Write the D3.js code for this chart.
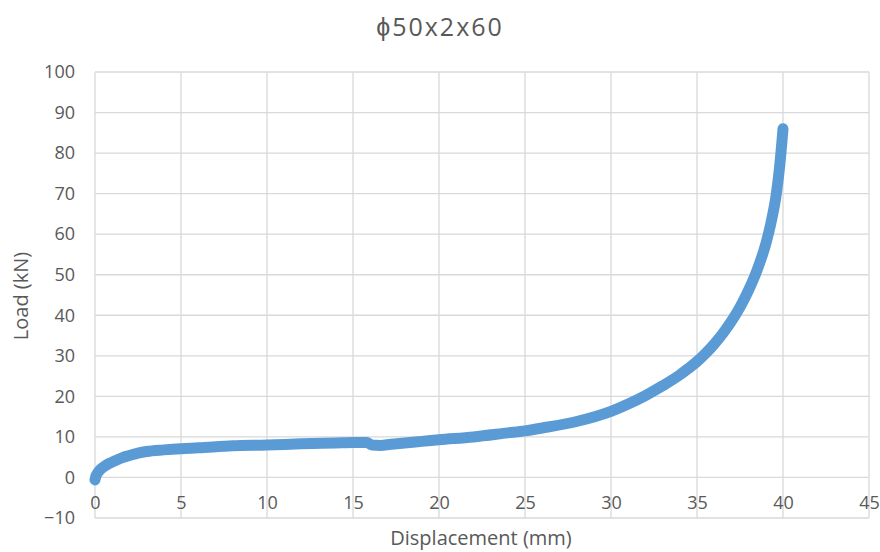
<!DOCTYPE html>
<html>
<head>
<meta charset="utf-8">
<script src="https://cdn.jsdelivr.net/npm/d3@7"></script>
<style>
  html, body { margin: 0; padding: 0; background: #fff; }
  svg { display: block; font-family: "Open Sans", sans-serif; }
</style>
</head>
<body>
<div class="chart"></div>
<script>
// donnees
const displacement = [0, 0.05, 0.15, 0.3, 0.5, 0.8, 1.2, 1.6, 2, 2.5, 3, 4, 5, 6, 8, 10, 12, 14, 15, 15.8, 16.1, 16.6, 17.2, 18, 19, 20, 22, 24, 25, 26, 28, 29, 30, 31, 32, 33, 34, 34.5, 35, 35.5, 36, 36.5, 37, 37.5, 38, 38.5, 39, 39.3, 39.6, 39.8, 40]
const load = [-0.6, 0.3, 1.1, 1.9, 2.6, 3.4, 4.2, 4.9, 5.4, 6, 6.4, 6.8, 7.1, 7.3, 7.8, 8.0, 8.3, 8.5, 8.6, 8.6, 8.0, 7.9, 8.2, 8.5, 8.9, 9.3, 10, 11, 11.5, 12.2, 13.8, 14.9, 16.3, 18.1, 20.2, 22.6, 25.3, 26.9, 28.6, 30.6, 32.9, 35.5, 38.5, 42, 46.2, 51.2, 57.6, 62.8, 69.6, 76.5, 86]
const xTicks = [0, 5, 10, 15, 20, 25, 30, 35, 40, 45]
const yTicks = [-10, 0, 10, 20, 30, 40, 50, 60, 70, 80, 90, 100]

const width = 880
const height = 552
const marge = { left: 95, right: 11, top: 72, bottom: 34 }

const svg = d3.select('.chart').append('svg')
    .attr('width', width)
    .attr('height', height)

const x = d3.scaleLinear().domain([0, 45]).range([marge.left, width - marge.right])
const y = d3.scaleLinear().domain([-10, 100]).range([height - marge.bottom, marge.top])

// grille
svg.append('g')
    .selectAll('line.h')
    .data(yTicks)
    .join('line')
    .attr('x1', x(0)).attr('x2', x(45))
    .attr('y1', d => y(d)).attr('y2', d => y(d))
    .attr('stroke', '#d9d9d9')
    .attr('stroke-width', 1.3)

svg.append('g')
    .selectAll('line.v')
    .data(xTicks)
    .join('line')
    .attr('x1', d => x(d)).attr('x2', d => x(d))
    .attr('y1', y(-10)).attr('y2', y(100))
    .attr('stroke', '#d9d9d9')
    .attr('stroke-width', 1.3)

// axe y
const yAxis = d3.axisLeft(y).tickValues(yTicks).tickSize(0).tickPadding(20)
svg.append('g')
    .attr('transform', `translate(${x(0)},0)`)
    .call(yAxis)
    .call(g => g.select('.domain').remove())
    .call(g => g.selectAll('text')
        .attr('fill', '#595959')
        .style('font-size', '18px')
        .style('font-family', '"Open Sans", sans-serif'))

// axe x (etiquettes entre 0 et -10)
const xAxis = d3.axisBottom(x).tickValues(xTicks).tickSize(0).tickPadding(19)
svg.append('g')
    .attr('transform', `translate(0,${y(0)})`)
    .call(xAxis)
    .call(g => g.select('.domain').remove())
    .call(g => g.selectAll('text')
        .attr('fill', '#595959')
        .style('font-size', '18px')
        .style('font-family', '"Open Sans", sans-serif'))

// courbe
const ligne = d3.line()
    .x((d, i) => x(displacement[i]))
    .y(d => y(d))
    .curve(d3.curveMonotoneX)

svg.append('path')
    .datum(load)
    .attr('d', ligne)
    .attr('fill', 'none')
    .attr('stroke', '#5b9bd5')
    .attr('stroke-width', 11)
    .attr('stroke-linecap', 'round')
    .attr('stroke-linejoin', 'round')

// titres
svg.append('text')
    .attr('x', 440).attr('y', 36)
    .attr('text-anchor', 'middle')
    .attr('fill', '#595959')
    .style('font-size', '25px')
    .style('letter-spacing', '2px')
    .text('ϕ50x2x60')

svg.append('text')
    .attr('x', 481).attr('y', 545)
    .attr('text-anchor', 'middle')
    .attr('fill', '#595959')
    .style('font-size', '20px')
    .text('Displacement (mm)')

svg.append('text')
    .attr('transform', 'translate(28,296) rotate(-90)')
    .attr('text-anchor', 'middle')
    .attr('fill', '#595959')
    .style('font-size', '20px')
    .text('Load (kN)')
</script>
</body>
</html>
